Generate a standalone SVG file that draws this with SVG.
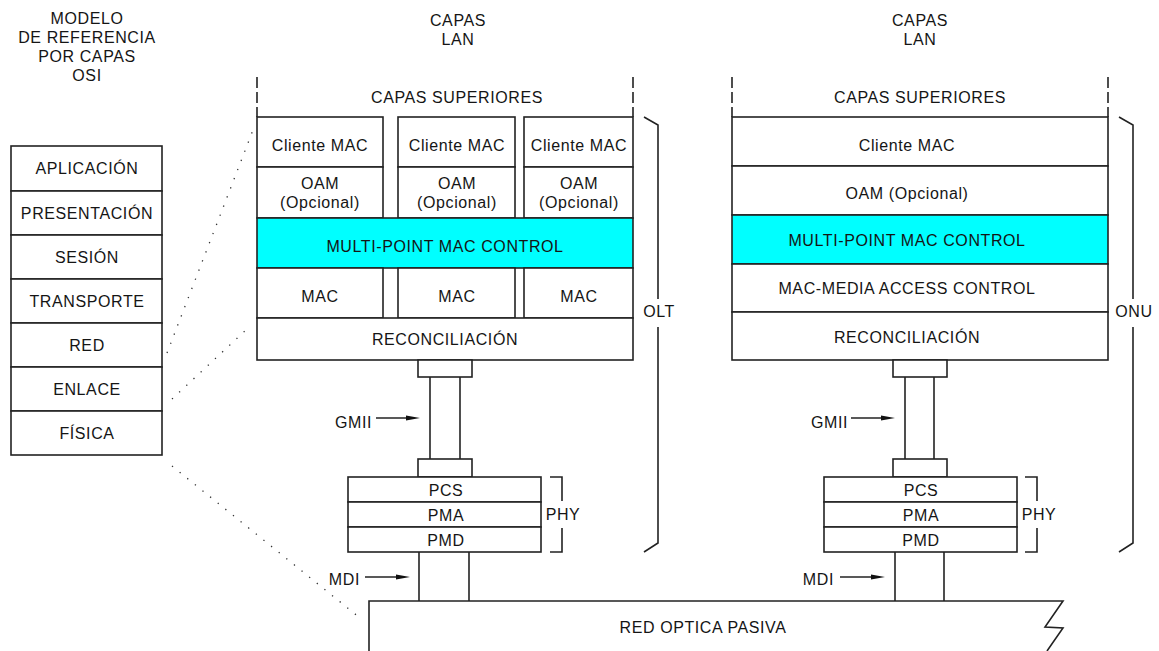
<svg xmlns="http://www.w3.org/2000/svg" width="1159" height="651" viewBox="0 0 1159 651">
<style>
text{font-family:"Liberation Sans",Arial,Helvetica,sans-serif;font-size:16px;fill:#151515;text-anchor:middle;dominant-baseline:central;letter-spacing:0.6px}
.e{text-anchor:end}
.b{fill:#fff;stroke:#222;stroke-width:1.6}
.c{fill:#00ffff;stroke:#222;stroke-width:1.6}
.l{fill:none;stroke:#222;stroke-width:1.6}
.d{fill:none;stroke:#222;stroke-width:1.6;stroke-dasharray:11 4}
.dot{fill:none;stroke:#333;stroke-width:1.3;stroke-dasharray:1.3 8.5}
.ah{fill:#111}
</style>
<rect width="1159" height="651" fill="#fff"/>

<g id="osi-title">
<text x="87" y="18">MODELO</text>
<text x="87" y="37">DE REFERENCIA</text>
<text x="87" y="56">POR CAPAS</text>
<text x="87" y="75">OSI</text>
</g>
<g id="osi">
<rect class="b" x="11" y="146" width="151" height="45"/><text x="87" y="168">APLICACIÓN</text>
<rect class="b" x="11" y="191" width="151" height="44"/><text x="87" y="213">PRESENTACIÓN</text>
<rect class="b" x="11" y="235" width="151" height="44"/><text x="87" y="257">SESIÓN</text>
<rect class="b" x="11" y="279" width="151" height="44"/><text x="87" y="301">TRANSPORTE</text>
<rect class="b" x="11" y="323" width="151" height="44"/><text x="87" y="345">RED</text>
<rect class="b" x="11" y="367" width="151" height="44"/><text x="87" y="389">ENLACE</text>
<rect class="b" x="11" y="411" width="151" height="44"/><text x="87" y="433">FÍSICA</text>
</g>

<g id="olt">
<text x="458" y="20">CAPAS</text>
<text x="458" y="39">LAN</text>
<line class="d" x1="257" y1="77" x2="257" y2="117"/>
<line class="d" x1="633" y1="77" x2="633" y2="117"/>
<text x="457" y="97">CAPAS SUPERIORES</text>
<rect class="b" x="257" y="117" width="126" height="50"/><text x="320" y="145">Cliente MAC</text>
<rect class="b" x="398" y="117" width="117" height="50"/><text x="457" y="145">Cliente MAC</text>
<rect class="b" x="524" y="117" width="109" height="50"/><text x="579" y="145">Cliente MAC</text>
<rect class="b" x="257" y="167" width="126" height="51"/><text x="320" y="183">OAM</text><text x="320" y="202">(Opcional)</text>
<rect class="b" x="398" y="167" width="117" height="51"/><text x="457" y="183">OAM</text><text x="457" y="202">(Opcional)</text>
<rect class="b" x="524" y="167" width="109" height="51"/><text x="579" y="183">OAM</text><text x="579" y="202">(Opcional)</text>
<rect class="c" x="257" y="218" width="376" height="50"/><text x="445" y="246">MULTI-POINT MAC CONTROL</text>
<rect class="b" x="257" y="268" width="126" height="50"/><text x="320" y="296">MAC</text>
<rect class="b" x="398" y="268" width="117" height="50"/><text x="457" y="296">MAC</text>
<rect class="b" x="524" y="268" width="109" height="50"/><text x="579" y="296">MAC</text>
<rect class="b" x="257" y="318" width="376" height="42"/><text x="445" y="339">RECONCILIACIÓN</text>
<polyline class="l" points="644,117 658,125 658,299"/>
<polyline class="l" points="658,327 658,543 644,552"/>
<text x="659" y="311">OLT</text>
</g>

<g id="olt-phy">
<rect class="b" x="418" y="360" width="54" height="17"/>
<line class="l" x1="430" y1="377" x2="430" y2="459"/>
<line class="l" x1="460" y1="377" x2="460" y2="459"/>
<rect class="b" x="418" y="459" width="54" height="18"/>
<rect class="b" x="348" y="477" width="193" height="25"/><text x="446" y="490">PCS</text>
<rect class="b" x="348" y="502" width="193" height="25"/><text x="446" y="515">PMA</text>
<rect class="b" x="348" y="527" width="193" height="25"/><text x="446" y="540">PMD</text>
<polyline class="l" points="550,477 562,477 562,501"/>
<polyline class="l" points="562,528 562,552 550,552"/>
<text x="563" y="514">PHY</text>
<line class="l" x1="419" y1="552" x2="419" y2="601"/>
<line class="l" x1="469" y1="552" x2="469" y2="601"/>
<text class="e" x="372" y="422">GMII</text>
<text class="e" x="360" y="579">MDI</text>
</g>

<g id="onu">
<text x="920" y="20">CAPAS</text>
<text x="920" y="39">LAN</text>
<line class="d" x1="732" y1="77" x2="732" y2="117"/>
<line class="d" x1="1108" y1="77" x2="1108" y2="117"/>
<text x="920" y="97">CAPAS SUPERIORES</text>
<rect class="b" x="732" y="117" width="376" height="49"/><text x="907" y="145">Cliente MAC</text>
<rect class="b" x="732" y="166" width="376" height="49"/><text x="907" y="193">OAM (Opcional)</text>
<rect class="c" x="732" y="215" width="376" height="49"/><text x="907" y="240">MULTI-POINT MAC CONTROL</text>
<rect class="b" x="732" y="264" width="376" height="48"/><text x="907" y="288">MAC-MEDIA ACCESS CONTROL</text>
<rect class="b" x="732" y="312" width="376" height="48"/><text x="907" y="337">RECONCILIACIÓN</text>
<polyline class="l" points="1119,117 1133,125 1133,299"/>
<polyline class="l" points="1133,327 1133,543 1119,552"/>
<text x="1134" y="311">ONU</text>
</g>

<g id="onu-phy">
<rect class="b" x="893" y="360" width="54" height="17"/>
<line class="l" x1="905" y1="377" x2="905" y2="459"/>
<line class="l" x1="934" y1="377" x2="934" y2="459"/>
<rect class="b" x="893" y="459" width="54" height="18"/>
<rect class="b" x="824" y="477" width="193" height="25"/><text x="921" y="490">PCS</text>
<rect class="b" x="824" y="502" width="193" height="25"/><text x="921" y="515">PMA</text>
<rect class="b" x="824" y="527" width="193" height="25"/><text x="921" y="540">PMD</text>
<polyline class="l" points="1025,477 1037,477 1037,501"/>
<polyline class="l" points="1037,528 1037,552 1025,552"/>
<text x="1039" y="514">PHY</text>
<line class="l" x1="895" y1="552" x2="895" y2="601"/>
<line class="l" x1="944" y1="552" x2="944" y2="601"/>
<text class="e" x="848" y="422">GMII</text>
<text class="e" x="834" y="579">MDI</text>
</g>

<g id="red-optica">
<path class="b" d="M369,651 V601 H1063 L1045,627 L1063,628 L1047,651"/>
<text x="703" y="627">RED OPTICA PASIVA</text>
</g>

<g id="connectors">
<line class="dot" x1="167" y1="353" x2="253" y2="130"/>
<line class="dot" x1="172" y1="399" x2="247" y2="329"/>
<line class="dot" x1="172" y1="466" x2="360" y2="618"/>
<line class="l" x1="376" y1="418" x2="410" y2="418"/><polygon class="ah" points="406,415.5 420,418 406,420.5"/>
<line class="l" x1="851" y1="418" x2="885" y2="418"/><polygon class="ah" points="881,415.5 895,418 881,420.5"/>
<line class="l" x1="365" y1="577" x2="400" y2="577"/><polygon class="ah" points="396,574.5 410,577 396,579.5"/>
<line class="l" x1="840" y1="577" x2="875" y2="577"/><polygon class="ah" points="871,574.5 885,577 871,579.5"/>
</g>
</svg>
